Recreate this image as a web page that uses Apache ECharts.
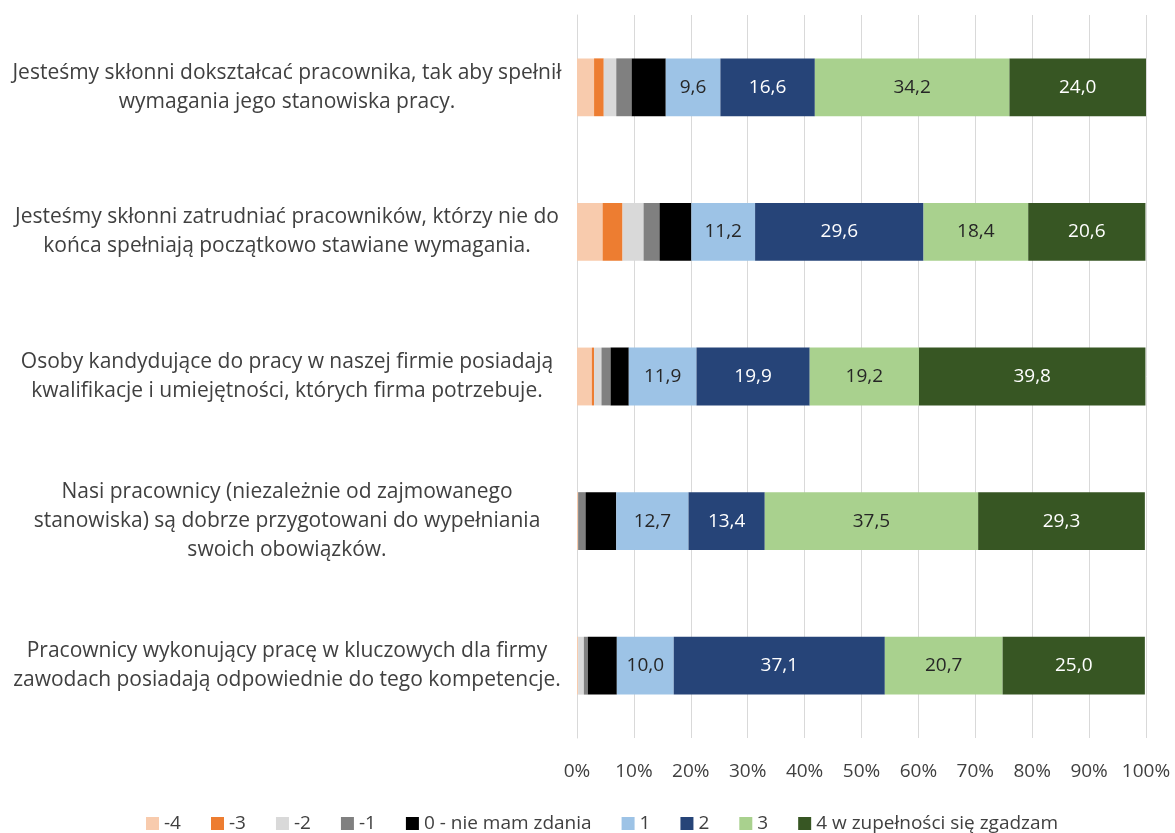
<!DOCTYPE html>
<html>
<head>
<meta charset="utf-8">
<script src="https://cdn.jsdelivr.net/npm/echarts@6/dist/echarts.min.js"></script>
<style>
  html, body { margin: 0; padding: 0; background: #fff; }
  #chart { width: 1175px; height: 833px; }
</style>
</head>
<body>
<div id="chart"></div>
<script>
const categories = [
  'Jesteśmy skłonni dokształcać pracownika, tak aby spełnił\nwymagania jego stanowiska pracy.',
  'Jesteśmy skłonni zatrudniać pracowników, którzy nie do\nkońca spełniają początkowo stawiane wymagania.',
  'Osoby kandydujące do pracy w naszej firmie posiadają\nkwalifikacje i umiejętności, których firma potrzebuje.',
  'Nasi pracownicy (niezależnie od zajmowanego\nstanowiska) są dobrze przygotowani do wypełniania\nswoich obowiązków.',
  'Pracownicy wykonujący pracę w kluczowych dla firmy\nzawodach posiadają odpowiednie do tego kompetencje.'
];

const seriesNames = ['-4', '-3', '-2', '-1', '0 - nie mam zdania', '1', '2', '3', '4 w zupełności się zgadzam'];
const vMinus4 = [3.0, 4.5, 2.6, 0.2, 0.2];
const vMinus3 = [1.7, 3.5, 0.4, 0.0, 0.0];
const vMinus2 = [2.2, 3.7, 1.3, 0.0, 1.0];
const vMinus1 = [2.7, 2.8, 1.6, 1.3, 0.7];
const vZero = [6.0, 5.6, 3.2, 5.4, 5.1];
const vOne = [9.6, 11.2, 11.9, 12.7, 10.0];
const vTwo = [16.6, 29.6, 19.9, 13.4, 37.1];
const vThree = [34.2, 18.4, 19.2, 37.5, 20.7];
const vFour = [24.0, 20.6, 39.8, 29.3, 25.0];
const xTicks = [0, 10, 20, 30, 40, 50, 60, 70, 80, 90, 100];

const values = [vMinus4, vMinus3, vMinus2, vMinus1, vZero, vOne, vTwo, vThree, vFour];
const colors = ['#F8CBAD', '#ED7D31', '#D9D9D9', '#808080', '#000000', '#9DC3E6', '#264478', '#A9D18E', '#375623'];
const labelColors = [null, null, null, null, null, '#262626', '#FFFFFF', '#262626', '#FFFFFF'];

const chart = echarts.init(document.getElementById('chart'));
const font = '"Open Sans", "Noto Sans", sans-serif';

const series = seriesNames.map((name, i) => ({
  name,
  type: 'bar',
  stack: 'total',
  barCategoryGap: '60%',
  data: values[i],
  itemStyle: { color: colors[i] },
  label: {
    show: labelColors[i] !== null,
    position: 'inside',
    color: labelColors[i] || '#262626',
    fontSize: 19,
    fontFamily: font,
    formatter: (p) => p.value.toFixed(1).replace('.', ',')
  }
}));

chart.setOption({
  animation: false,
  color: colors,
  textStyle: { fontFamily: font },
  grid: { left: 577, right: 29, top: 15, bottom: 95 },
  legend: {
    top: 809,
    left: 141,
    itemWidth: 13,
    itemHeight: 13,
    itemGap: 30,
    icon: 'rect',
    textStyle: { fontSize: 19, color: '#404040', fontFamily: font },
    data: seriesNames
  },
  xAxis: {
    type: 'value',
    min: 0,
    max: 100,
    interval: 10,
    axisLine: { show: false },
    axisTick: { show: false },
    splitLine: { lineStyle: { color: '#D9D9D9', width: 1 } },
    axisLabel: {
      margin: 24,
      fontSize: 19,
      color: '#404040',
      fontFamily: font,
      formatter: (v) => xTicks.includes(v) ? v + '%' : ''
    }
  },
  yAxis: {
    type: 'category',
    inverse: true,
    data: categories,
    axisLine: { show: true, lineStyle: { color: '#D9D9D9' } },
    axisTick: { show: false },
    axisLabel: {
      margin: 290,
      align: 'center',
      fontSize: 21,
      lineHeight: 29,
      color: '#404040',
      fontFamily: font
    }
  },
  series
});
</script>
</body>
</html>
